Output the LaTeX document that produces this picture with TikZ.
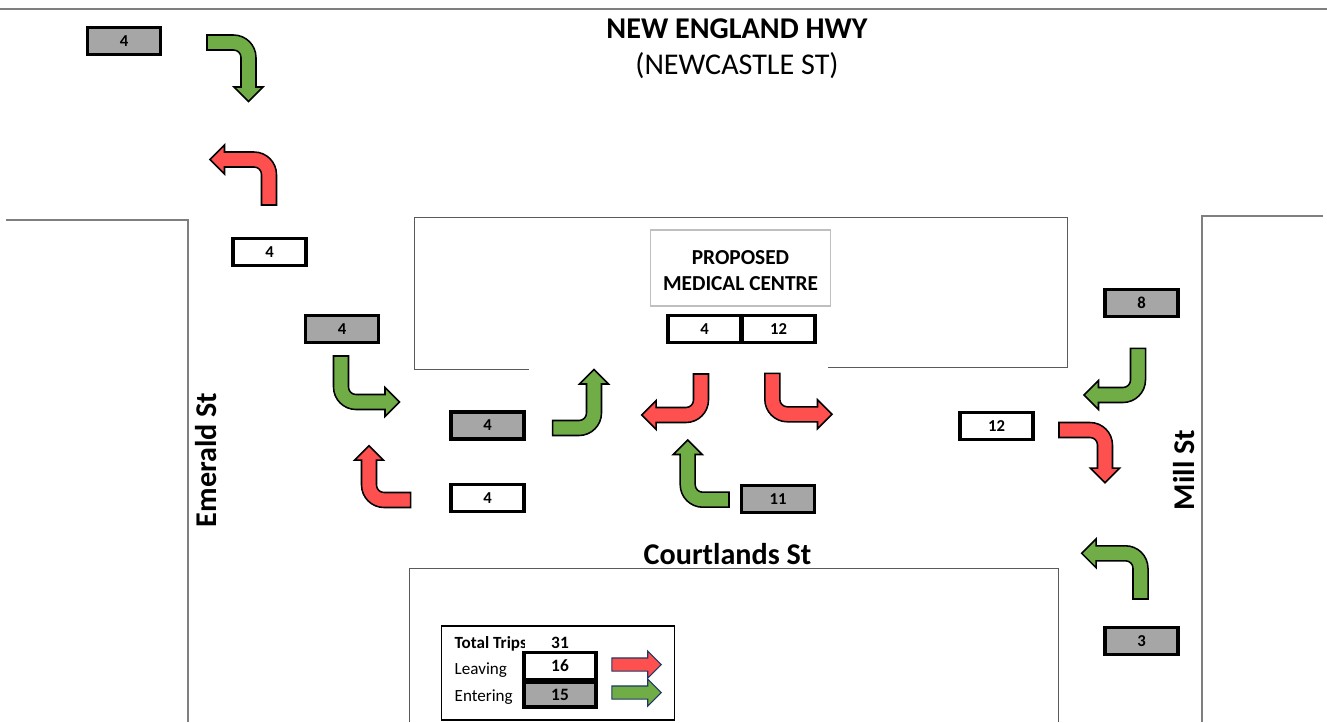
\documentclass[tikz,border=0pt]{standalone}
\usepackage{fontspec}
\setmainfont{Carlito}
\usetikzlibrary{shapes.arrows}
\definecolor{turngreen}{HTML}{70AD47}
\definecolor{turnred}{HTML}{FF5050}
\definecolor{boxgray}{HTML}{A6A6A6}
\definecolor{roadgray}{HTML}{7F7F7F}
\definecolor{sitegray}{HTML}{5A5A5A}
\definecolor{legendblue}{HTML}{1F3864}
\tikzset{
  pics/turnarrow/.style n args={2}{code={
    \path[pic actions] (0,-7.5) [rounded corners=16.9pt] -- (#1+7.5,-7.5) [sharp corners] -- (#1+7.5,#2-14.5) -- (#1+14.5,#2-14.5) -- (#1,#2) -- (#1-14.5,#2-14.5) -- (#1-7.5,#2-14.5) [rounded corners=5.6pt] -- (#1-7.5,7.5) [sharp corners] -- (0,7.5) -- cycle;
  }}
}
\begin{document}
\begin{tikzpicture}[
  x=0.75pt, y=-0.75pt,
  road/.style={draw=roadgray, line width=0.9pt},
  site/.style={draw=sitegray, line width=0.7pt},
  count/.style={draw, line width=2.7pt, minimum width=54.5pt, minimum height=20.5pt, inner sep=0pt, font=\bfseries\fontsize{12.5}{14}\selectfont},
  enter/.style={count, fill=boxgray},
  leave/.style={count, fill=white},
  greenturn/.style={draw=black, line width=1.15pt, fill=turngreen},
  redturn/.style={draw=black, line width=1.15pt, fill=turnred},
  street/.style={font=\bfseries\fontsize{22.6}{26}\selectfont},
  legend/.style={anchor=west, font=\fontsize{12.8}{15}\selectfont},
  legendarrow/.style={draw=legendblue, line width=0.8pt, single arrow, single arrow head extend=5.25pt, minimum width=19.5pt, minimum height=37pt, inner sep=4.5pt, anchor=tip}
]
\useasboundingbox (0,0) rectangle (1327,722);

\draw[road] (0,9) -- (1327,9);
\draw[road] (6,220) -- (188,220) -- (188,722);
\draw[road] (1323,216) -- (1202,216) -- (1202,722);
\draw[site] (529,369) -- (414,369) -- (414,217) -- (1067,217) -- (1067,367) -- (828,367);
\draw[site] (409,722) -- (409,568) -- (1058,568) -- (1058,722);

\node[street] (hwy) at (737,29) {NEW ENGLAND HWY};
\node[font=\fontsize{22.6}{26}\selectfont] (newcastle) at (737,66) {(NEWCASTLE ST)};
\node[street, rotate=90] (emerald) at (206,460) {Emerald St};
\node[street, rotate=90] (mill) at (1184,470) {Mill St};
\node[street] (courtlands) at (727.5,554) {Courtlands St};

\node[draw=black!25, line width=0.8pt, minimum width=135pt, minimum height=57pt, align=center, inner sep=0pt, font=\bfseries\fontsize{16}{19.5}\selectfont] (centre) at (740.5,268) {\rule{0pt}{14pt}PROPOSED\\MEDICAL CENTRE};

\node[enter] (a) at (124,41) {4};
\node[leave] (b) at (269.5,252) {4};
\node[enter] (c) at (342,329) {4};
\node[enter] (d) at (487.5,425.5) {4};
\node[leave] (e) at (487.5,498) {4};
\node[leave] (f) at (704.5,329) {4};
\node[leave] (g) at (778.5,329) {12};
\node[enter] (h) at (778,499) {11};
\node[leave] (i) at (996.5,426) {12};
\node[enter] (j) at (1141.5,303) {8};
\node[enter] (k) at (1141.5,641) {3};

\pic[greenturn] at (207,42.5) {turnarrow={41.5}{59}};
\pic[redturn, rotate=90, yscale=-1] at (269,205) {turnarrow={45.5}{59}};
\pic[greenturn, rotate=-90, yscale=-1] at (341,356) {turnarrow={46}{58.5}};
\pic[redturn, rotate=180] at (410.7,500) {turnarrow={41.7}{54.3}};
\pic[greenturn, yscale=-1] at (552.7,428) {turnarrow={41.3}{58.5}};
\pic[redturn, rotate=-90] at (701,374) {turnarrow={41}{59.3}};
\pic[redturn, rotate=-90, yscale=-1] at (772.3,373.3) {turnarrow={41}{59.7}};
\pic[greenturn, rotate=180] at (729,499.7) {turnarrow={41.3}{59.7}};
\pic[greenturn, rotate=-90] at (1138,348.3) {turnarrow={46.7}{54}};
\pic[redturn] at (1059,430) {turnarrow={46}{52.7}};
\pic[greenturn, rotate=90, yscale=-1] at (1140.5,599) {turnarrow={45.7}{58.8}};

\node[draw, line width=0.8pt, minimum width=175pt, minimum height=70.5pt, inner sep=0pt] (key) at (558,673) {};
\begin{scope}
  \clip (442,630) rectangle (524,656);
  \node[legend, font=\bfseries\fontsize{12.8}{15}\selectfont] (total) at (450,644) {Total Trips};
\end{scope}
\node[font=\bfseries\fontsize{13}{15}\selectfont] (totalval) at (560,643) {31};
\node[legend] (leaving) at (450,670) {Leaving};
\node[legend] (entering) at (450,697) {Entering};
\node[leave, minimum width=54pt, font=\bfseries\fontsize{13}{15}\selectfont] (leaveval) at (560,666) {16};
\node[enter, minimum width=54pt, minimum height=19pt, font=\bfseries\fontsize{13}{15}\selectfont] (enterval) at (560,694.5) {15};
\node[legendarrow, fill=turnred] (leavearrow) at (662,664.5) {};
\node[legendarrow, fill=turngreen] (enterarrow) at (662,692.5) {};
\end{tikzpicture}
\end{document}
